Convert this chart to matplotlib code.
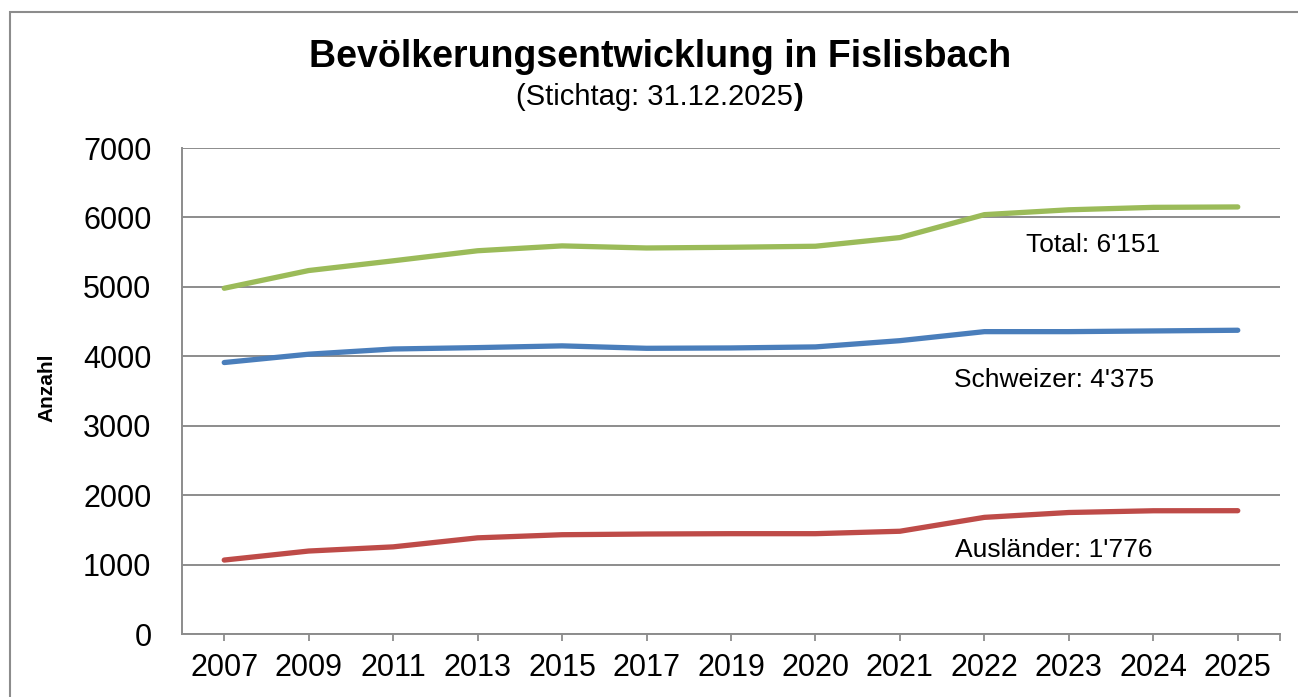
import matplotlib
matplotlib.use("Agg")
import matplotlib.pyplot as plt
from matplotlib.patches import Rectangle

plt.rcParams['font.family'] = ['Liberation Sans', 'DejaVu Sans']

years = ['2007', '2009', '2011', '2013', '2015', '2017', '2019', '2020', '2021', '2022', '2023', '2024', '2025']
total = [4980, 5235, 5375, 5520, 5590, 5560, 5570, 5585, 5710, 6040, 6110, 6145, 6151]
schweizer = [3910, 4030, 4105, 4125, 4150, 4115, 4120, 4135, 4225, 4355, 4355, 4365, 4375]
auslaender = [1065, 1195, 1255, 1385, 1430, 1440, 1445, 1445, 1480, 1680, 1750, 1775, 1776]

title = 'Bevölkerungsentwicklung in Fislisbach'
subtitle = '(Stichtag: 31.12.2025'
ylabel = 'Anzahl'
labels = ["Total: 6'151", "Schweizer: 4'375", "Ausländer: 1'776"]

W, H = 1298, 697
fig = plt.figure(figsize=(W / 100, H / 100), dpi=100)

# outer chart border
fig.patches.append(Rectangle((10 / W, -0.1), 1.2, 1 - 12 / H + 0.1, transform=fig.transFigure,
                             fill=False, edgecolor='#8c8c8c', linewidth=1.5, zorder=0))

ax = fig.add_axes([182 / W, 1 - 634 / H, (1280 - 182) / W, (634 - 148) / H])
x = list(range(len(years)))
grey = '#8c8c8c'
ax.plot(x, total, color='#9BBB59', lw=3.8, solid_capstyle='round', solid_joinstyle='round', zorder=3)
ax.plot(x, schweizer, color='#4A7EBB', lw=3.8, solid_capstyle='round', solid_joinstyle='round', zorder=3)
ax.plot(x, auslaender, color='#BE4B48', lw=3.8, solid_capstyle='round', solid_joinstyle='round', zorder=3)

ax.set_xlim(-0.5, len(years) - 0.5)
ax.set_ylim(0, 7000)
ax.set_yticks(range(0, 7001, 1000))
ax.set_yticklabels([str(v) for v in range(0, 7001, 1000)], fontsize=22)
ax.set_xticks(x)
ax.set_xticklabels(years, fontsize=22)
ax.set_xticks([len(years) - 0.5], minor=True)
ax.tick_params(axis='y', length=0, pad=22)
ax.tick_params(axis='x', which='both', length=5, width=1.3, color=grey, direction='out', pad=9)
ax.grid(axis='y', color=grey, linewidth=1.4)
ax.set_axisbelow(True)
for s in ['top', 'right']:
    ax.spines[s].set_visible(False)
for s in ['left', 'bottom']:
    ax.spines[s].set_color(grey)
    ax.spines[s].set_linewidth(1.4)

fig.text(47 / W, 1 - 388 / H, ylabel, rotation=90, fontsize=15, fontweight='bold', ha='center', va='center')

fig.text(660 / W, 1 - 57 / H, title, fontsize=27, fontweight='bold', ha='center', va='center')
fig.text(793 / W, 1 - 97 / H, subtitle, fontsize=21, ha='right', va='center')
fig.text(793 / W, 1 - 97 / H, ')', fontsize=21, fontweight='bold', ha='left', va='center')

fig.text(1093 / W, 1 - 245 / H, labels[0], fontsize=19, ha='center', va='center')
fig.text(1054 / W, 1 - 380 / H, labels[1], fontsize=19, ha='center', va='center')
fig.text(1054 / W, 1 - 550 / H, labels[2], fontsize=19, ha='center', va='center')

fig.savefig('out.png', dpi=100)
